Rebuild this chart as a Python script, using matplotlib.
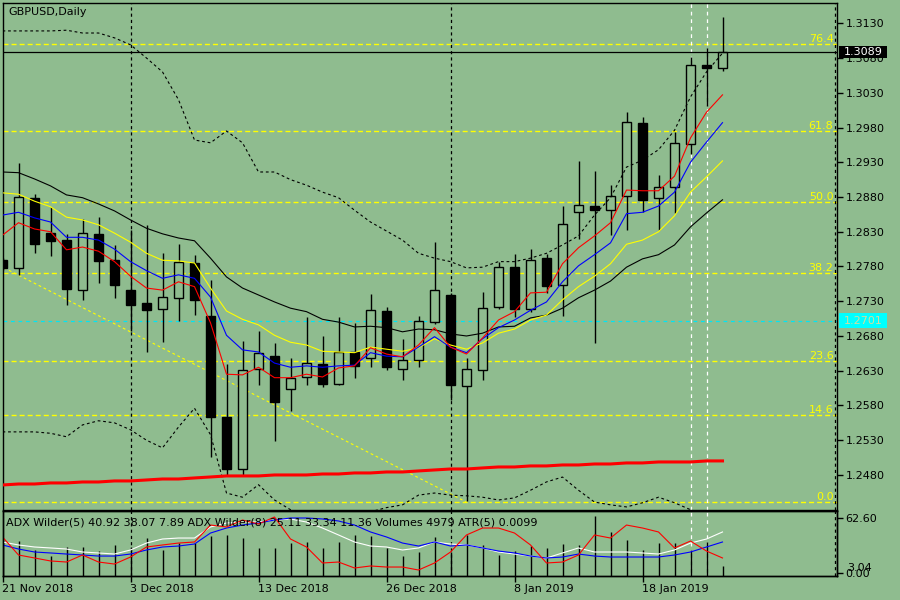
import numpy as np
import matplotlib
matplotlib.use("Agg")
import matplotlib.pyplot as plt
from matplotlib.patches import Rectangle
from matplotlib.transforms import blended_transform_factory

plt.rcParams["font.family"] = "DejaVu Sans"
plt.rcParams["font.size"] = 8

BG = "#8fbc8f"

# GBPUSD daily bars, 21 Nov 2018 .. 25 Jan 2019
opens = [1.2789, 1.2778, 1.2879, 1.2828, 1.2818, 1.2746, 1.2827, 1.2789, 1.2746, 1.2727,
         1.2719, 1.2734, 1.2785, 1.2709, 1.2564, 1.2488, 1.2632, 1.2651, 1.2604, 1.2621,
         1.2639, 1.2611, 1.2657, 1.2648, 1.2716, 1.2633, 1.2645, 1.2700, 1.2739, 1.2608,
         1.2631, 1.2721, 1.2779, 1.2719, 1.2792, 1.2753, 1.2858, 1.2867, 1.2861, 1.2882,
         1.2987, 1.2878, 1.2894, 1.2956, 1.3070, 1.3066]
highs = [1.2792, 1.2929, 1.2885, 1.2865, 1.2827, 1.2848, 1.2851, 1.2811, 1.2833, 1.2840,
         1.2799, 1.2812, 1.2797, 1.2761, 1.2640, 1.2673, 1.2687, 1.2670, 1.2648, 1.2707,
         1.2680, 1.2707, 1.2698, 1.2741, 1.2721, 1.2676, 1.2709, 1.2815, 1.2742, 1.2649,
         1.2744, 1.2787, 1.2798, 1.2805, 1.2798, 1.2867, 1.2932, 1.2918, 1.2897, 1.3002,
         1.2995, 1.2912, 1.2974, 1.3082, 1.3094, 1.3139]
lows = [1.2775, 1.2768, 1.2799, 1.2795, 1.2725, 1.2732, 1.2756, 1.2735, 1.2687, 1.2657,
        1.2672, 1.2702, 1.2710, 1.2506, 1.2480, 1.2478, 1.2610, 1.2529, 1.2572, 1.2610,
        1.2607, 1.2610, 1.2619, 1.2635, 1.2631, 1.2616, 1.2635, 1.2697, 1.2588, 1.2442,
        1.2616, 1.2719, 1.2707, 1.2715, 1.2742, 1.2709, 1.2819, 1.2670, 1.2825, 1.2832,
        1.2859, 1.2832, 1.2857, 1.2942, 1.3011, 1.3062]
closes = [1.2778, 1.2880, 1.2813, 1.2816, 1.2747, 1.2828, 1.2788, 1.2754, 1.2725, 1.2718,
          1.2736, 1.2786, 1.2732, 1.2563, 1.2489, 1.2631, 1.2655, 1.2585, 1.2619, 1.2641,
          1.2611, 1.2657, 1.2637, 1.2717, 1.2635, 1.2645, 1.2701, 1.2746, 1.2609, 1.2632,
          1.2720, 1.2779, 1.2719, 1.2790, 1.2752, 1.2841, 1.2868, 1.2862, 1.2881, 1.2988,
          1.2875, 1.2894, 1.2957, 1.3070, 1.3066, 1.3089]

# moving averages
ma_red = [1.2825, 1.2843, 1.2834, 1.2830, 1.2804, 1.2808, 1.2802, 1.2787, 1.2766, 1.2749,
          1.2746, 1.2758, 1.2751, 1.2699, 1.2625, 1.2624, 1.2635, 1.2620, 1.2620, 1.2625,
          1.2621, 1.2634, 1.2637, 1.2663, 1.2654, 1.2650, 1.2667, 1.2692, 1.2664, 1.2654,
          1.2677, 1.2703, 1.2715, 1.2742, 1.2743, 1.2784, 1.2807, 1.2824, 1.2843, 1.2890,
          1.2889, 1.2889, 1.2910, 1.2965, 1.3002, 1.3027]
ma_blue = [1.2854, 1.2858, 1.2850, 1.2844, 1.2822, 1.2822, 1.2818, 1.2805, 1.2787, 1.2774,
           1.2763, 1.2768, 1.2763, 1.2736, 1.2681, 1.2660, 1.2657, 1.2641, 1.2635, 1.2637,
           1.2635, 1.2637, 1.2638, 1.2656, 1.2651, 1.2650, 1.2664, 1.2679, 1.2664, 1.2656,
           1.2676, 1.2692, 1.2703, 1.2717, 1.2729, 1.2758, 1.2781, 1.2797, 1.2814, 1.2856,
           1.2858, 1.2867, 1.2887, 1.2930, 1.2959, 1.2987]
ma_yellow = [1.2886, 1.2884, 1.2874, 1.2866, 1.2851, 1.2847, 1.2840, 1.2828, 1.2815, 1.2799,
             1.2789, 1.2788, 1.2785, 1.2749, 1.2716, 1.2704, 1.2696, 1.2681, 1.2671, 1.2667,
             1.2658, 1.2657, 1.2656, 1.2664, 1.2661, 1.2658, 1.2663, 1.2676, 1.2667, 1.2661,
             1.2670, 1.2684, 1.2690, 1.2703, 1.2710, 1.2732, 1.2751, 1.2766, 1.2784, 1.2812,
             1.2818, 1.2830, 1.2853, 1.2887, 1.2909, 1.2932]
ma_black = [1.2916, 1.2915, 1.2906, 1.2896, 1.2883, 1.2879, 1.2870, 1.2860, 1.2847, 1.2835,
            1.2827, 1.2821, 1.2817, 1.2792, 1.2765, 1.2749, 1.2739, 1.2729, 1.2720, 1.2715,
            1.2704, 1.2700, 1.2693, 1.2694, 1.2692, 1.2686, 1.2690, 1.2689, 1.2683, 1.2680,
            1.2684, 1.2693, 1.2694, 1.2706, 1.2710, 1.2720, 1.2735, 1.2746, 1.2759, 1.2779,
            1.2791, 1.2797, 1.2811, 1.2837, 1.2857, 1.2876]
ma_long = [1.24656, 1.24670, 1.24670, 1.24685, 1.24685, 1.24699, 1.24699, 1.24714, 1.24714, 1.24728,
           1.24742, 1.24742, 1.24757, 1.24771, 1.24786, 1.24786, 1.24786, 1.24800, 1.24800, 1.24800,
           1.24814, 1.24814, 1.24829, 1.24829, 1.24843, 1.24843, 1.24858, 1.24872, 1.24886, 1.24886,
           1.24901, 1.24915, 1.24915, 1.24930, 1.24930, 1.24944, 1.24944, 1.24958, 1.24958, 1.24973,
           1.24973, 1.24987, 1.24987, 1.24987, 1.25002, 1.25002]

# bands (dashed)
band_up = [1.3119, 1.3119, 1.3119, 1.3119, 1.3120, 1.3116, 1.3116, 1.3109, 1.3099, 1.3080,
           1.3060, 1.3020, 1.2962, 1.2958, 1.2975, 1.2958, 1.2916, 1.2916, 1.2905, 1.2897,
           1.2887, 1.2879, 1.2861, 1.2844, 1.2831, 1.2818, 1.2799, 1.2792, 1.2787, 1.2778,
           1.2779, 1.2787, 1.2787, 1.2792, 1.2799, 1.2811, 1.2824, 1.2854, 1.2879, 1.2923,
           1.2933, 1.2948, 1.2976, 1.3024, 1.3060, 1.3087]
band_dn = [1.2542, 1.2542, 1.2542, 1.2540, 1.2535, 1.2552, 1.2558, 1.2555, 1.2545, 1.2530,
           1.2519, 1.2549, 1.2576, 1.2538, 1.2454, 1.2448, 1.2466, 1.2444, 1.2430, 1.2422,
           1.2418, 1.2418, 1.2422, 1.2427, 1.2433, 1.2437, 1.2451, 1.2454, 1.2451, 1.2450,
           1.2448, 1.2444, 1.2447, 1.2458, 1.2470, 1.2477, 1.2458, 1.2441, 1.2437, 1.2434,
           1.2440, 1.2448, 1.2440, 1.2430, 1.2422, 1.2418]

# lower window: ADX lines and volumes
adx_red = [41.0, 20.5, 17.1, 13.7, 12.5, 20.5, 12.5, 10.2, 18.2, 29.6,
           31.9, 34.1, 35.3, 54.6, 52.4, 60.3, 55.8, 63.7, 38.7, 29.6,
           11.4, 12.5, 5.7, 8.0, 6.8, 6.8, 3.4, 11.4, 23.9, 43.3,
           51.2, 51.2, 45.5, 31.9, 11.4, 12.5, 20.5, 43.3, 39.8, 54.6,
           51.2, 46.7, 28.5, 36.4, 25.0, 17.1]
adx_blue = [31.9, 27.3, 23.9, 22.8, 21.6, 20.5, 19.3, 19.3, 21.6, 26.2,
            29.6, 30.7, 33.0, 45.5, 51.2, 54.6, 56.9, 60.3, 62.6, 62.6,
            61.5, 59.2, 54.6, 46.7, 41.0, 34.1, 30.7, 35.3, 30.7, 31.9,
            28.5, 25.0, 22.8, 19.3, 17.1, 18.2, 21.6, 19.3, 18.2, 18.2,
            18.2, 18.2, 20.5, 23.9, 29.6, 35.3]
adx_white = [35.3, 31.9, 29.6, 28.5, 27.3, 23.9, 22.8, 21.6, 26.2, 34.1,
             38.7, 39.8, 39.8, 52.4, 56.9, 58.0, 58.0, 60.3, 61.5, 58.0,
             51.2, 43.3, 35.3, 30.7, 29.6, 26.2, 28.5, 35.3, 33.0, 31.9,
             28.5, 23.9, 21.6, 19.3, 17.1, 22.8, 28.5, 23.9, 23.9, 23.9,
             22.8, 21.6, 26.2, 34.1, 38.7, 46.7]
volumes = [17900, 17400, 12900, 10000, 14600, 14600, 12450, 15400, 14600, 18900,
           12900, 16600, 16400, 19900, 20400, 18900, 13900, 13900, 16400, 16900,
           14100, 17100, 20400, 19900, 14100, 10000, 12100, 19600, 12100, 20400,
           15400, 10500, 12450, 14900, 14100, 15900, 15400, 30000, 22100, 17900,
           12900, 16600, 16600, 12900, 17100, 4979]

# fibonacci retracement
fib_start = (-45, 1.3304)
fib_end = (29, 1.2441)
fib_ratios = [0.0, 14.6, 23.6, 38.2, 50.0, 61.8, 76.4]

bid = 1.3089
alert_price = 1.2701
vlines_black = [8, 28]
vlines_white = [43, 44]

price_ticks = [1.3130, 1.3080, 1.3030, 1.2980, 1.2930, 1.2880, 1.2830,
               1.2780, 1.2730, 1.2680, 1.2630, 1.2580, 1.2530, 1.2480]
date_pos = [0, 8, 16, 24, 32, 40]
date_labels = ["21 Nov 2018", "3 Dec 2018", "13 Dec 2018", "26 Dec 2018",
               "8 Jan 2019", "18 Jan 2019"]

idx = np.arange(len(closes))
XMAX = 834.5 / 16.0

fig = plt.figure(figsize=(9, 6), dpi=100, facecolor=BG)
ax = fig.add_axes([2.5 / 900, 1 - 509.5 / 600, 834.5 / 900, 507 / 600], facecolor=BG)
ax_vol = fig.add_axes([2.5 / 900, 1 - 576 / 600, 834.5 / 900, 65 / 600], facecolor=BG)
ax_adx = ax_vol.twinx()

# ---- main window
for i in idx:
    o, h, l, c = opens[i], highs[i], lows[i], closes[i]
    ax.vlines(i, l, h, color="k", lw=1.0, zorder=2)
    up = c >= o
    ax.bar(i, max(abs(c - o), 0.0001), bottom=min(o, c), width=0.6,
           color=BG if up else "k", edgecolor="k", lw=1.0, zorder=3)

ax.plot(idx, band_up, color="k", lw=0.8, dashes=(2.5, 2.5), zorder=4)
ax.plot(idx, band_dn, color="k", lw=0.8, dashes=(2.5, 2.5), zorder=4)
ax.plot(idx, ma_black, color="k", lw=0.8, zorder=4)
ax.plot(idx, ma_yellow, color="#ffff00", lw=0.8, zorder=4)
ax.plot(idx, ma_blue, color="#0000ff", lw=0.8, zorder=4)
ax.plot(idx, ma_red, color="#ff0000", lw=0.8, zorder=4)
ax.plot(idx, ma_long, color="#ff0000", lw=2.2, zorder=4)

fib_range = fib_start[1] - fib_end[1]
ytrans = blended_transform_factory(ax.transAxes, ax.transData)
for r in fib_ratios:
    lvl = fib_end[1] + fib_range * r / 100.0
    ax.axhline(lvl, color="#ffff00", lw=1.0, dashes=(3.6, 2.2), zorder=1)
    ax.text(0.9958, lvl, "%.1f" % r, color="#ffff00", ha="right", va="bottom",
            transform=ytrans, zorder=5)
ax.plot([fib_start[0], fib_end[0]], [fib_start[1], fib_end[1]], color="#ffff00",
        lw=0.8, dashes=(2.5, 2.5), zorder=1)

ax.axhline(bid, color="k", lw=0.9, zorder=4)
ax.axhline(alert_price, color="#00e5f5", lw=0.9, dashes=(3, 3), zorder=1)

for v in vlines_black:
    ax.axvline(v, color="k", lw=0.9, dashes=(2.5, 2.5), zorder=1)
    ax_vol.axvline(v, color="k", lw=0.9, dashes=(2.5, 2.5), zorder=1)
for v in vlines_white:
    ax.axvline(v, color="white", lw=0.9, dashes=(3, 3), zorder=1)
    ax_vol.axvline(v, color="white", lw=0.9, dashes=(3, 3), zorder=1)
ax.axvline(XMAX - 0.13, color="k", lw=0.9, dashes=(2.5, 2.5), zorder=1)
ax_vol.axvline(XMAX - 0.13, color="k", lw=0.9, dashes=(2.5, 2.5), zorder=1)

ax.set_xlim(0, XMAX)
ax.set_ylim(1.24303, 1.31599)
ax.yaxis.tick_right()
ax.set_yticks(price_ticks)
ax.set_yticklabels(["%.4f" % p for p in price_ticks])
ax.tick_params(axis="y", length=4, width=1, pad=2, colors="k")
ax.tick_params(axis="x", bottom=False, labelbottom=False)

box_h = 0.00175
ax.add_patch(Rectangle((1.0024, bid - box_h / 2), 0.0575, box_h, transform=ytrans,
                       facecolor="k", edgecolor="none", clip_on=False, zorder=10))
ax.text(1.0312, bid, "%.4f" % bid, color="white", ha="center", va="center",
        transform=ytrans, clip_on=False, zorder=11)
ax.add_patch(Rectangle((1.0024, alert_price - 0.00108 + 0.00012), 0.0575, 0.00216,
                       transform=ytrans, facecolor="#00ffff", edgecolor="none",
                       clip_on=False, zorder=10))
ax.text(1.0312, alert_price + 0.00012, "%.4f" % alert_price, color="#d2dca0",
        ha="center", va="center", transform=ytrans, clip_on=False, zorder=11)

# ---- lower window
ax_vol.vlines(idx, 0, volumes, color="k", lw=1.0, zorder=2)
ax_vol.set_ylim(0, 32370)
ax_vol.set_xlim(0, XMAX)
ax_vol.tick_params(axis="y", left=False, labelleft=False)
ax_vol.set_xticks(date_pos)
ax_vol.set_xticklabels(date_labels)
for lbl in ax_vol.get_xticklabels():
    lbl.set_ha("left")
ax_vol.tick_params(axis="x", length=4, width=1, pad=2, colors="k")

ax_adx.plot(idx, adx_white, color="white", lw=0.8)
ax_adx.plot(idx, adx_blue, color="#0000ff", lw=0.8)
ax_adx.plot(idx, adx_red, color="#ff0000", lw=0.8)
ax_adx.set_ylim(-3.41, 70.57)
ax_adx.set_yticks([0, 62.6])
ax_adx.set_yticklabels(["0.00", "62.60"])
ax_adx.tick_params(axis="y", length=4, width=1, pad=2, colors="k")

for a in (ax, ax_vol, ax_adx):
    for s in a.spines.values():
        s.set_color("k")
        s.set_linewidth(1.0)

fig.text(8 / 900, 1 - 12 / 600, "GBPUSD,Daily", va="center", ha="left", color="k")
fig.text(6 / 900, 1 - 522.5 / 600,
         "ADX Wilder(5) 40.92 38.07 7.89 ADX Wilder(8) 25.11 33.34 11.36 "
         "Volumes 4979 ATR(5) 0.0099", va="center", ha="left", color="k")
fig.text(847 / 900, 1 - 568 / 600, "3.04", va="center", ha="left", color="k")

fig.savefig("out.png", dpi=100, facecolor=BG)
